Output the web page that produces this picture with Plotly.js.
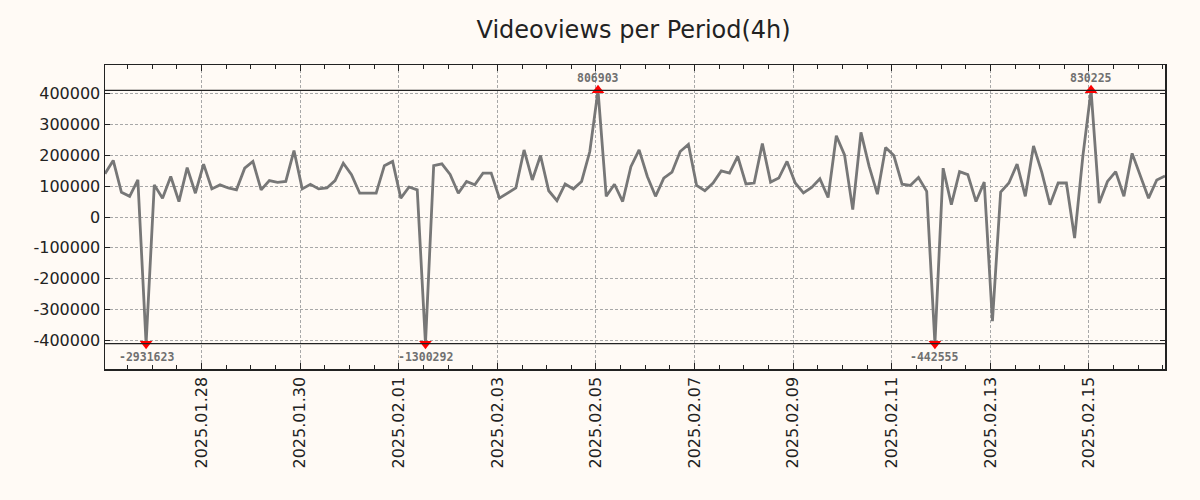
<!DOCTYPE html>
<html>
<head>
<meta charset="utf-8">
<script src="https://cdn.plot.ly/plotly-3.0.1.min.js"></script>
<style>
  html, body { margin: 0; padding: 0; background: #fffaf5; }
  #chart { width: 1200px; height: 500px; }
</style>
</head>
<body>
<div id="chart"></div>
<script>
// ---- data ----
const chartTitle = 'Videoviews per Period(4h)';
const periodStart = '2025-01-26T01:00:00Z';   // first 4h period
const periodHours = 4;
const views = [
  140000, 183000, 80000, 67000, 120000, -2931623, 104000, 61000, 131000, 50000,
  160000, 77000, 171000, 91000, 104000, 94000, 88000, 158000, 180000, 88000,
  118000, 112000, 115000, 215000, 91000, 106000, 91000, 94000, 118000, 174000,
  137000, 77000, 77000, 77000, 166000, 180000, 61000, 97000, 88000, -1300292,
  166000, 172000, 138000, 77000, 115000, 104000, 142000, 142000, 61000, 77000,
  94000, 217000, 120000, 199000, 85000, 53000, 107000, 91000, 115000, 212000,
  806903, 67000, 106000, 50000, 163000, 217000, 131000, 67000, 126000, 145000,
  212000, 235000, 102000, 85000, 110000, 149000, 142000, 196000, 107000, 110000,
  238000, 113000, 126000, 180000, 110000, 78000, 96000, 124000, 63000, 263000,
  201000, 24000, 274000, 163000, 74000, 225000, 199000, 106000, 102000, 128000,
  83000, -442555, 158000, 40000, 147000, 137000, 50000, 113000, -337000, 81000,
  110000, 171000, 67000, 230000, 145000, 40000, 110000, 110000, -68000, 196000,
  830225, 45000, 115000, 147000, 67000, 206000, 134000, 61000, 120000, 133000
];
const clipLevel = 410000;
const yTickVals = [-400000, -300000, -200000, -100000, 0, 100000, 200000, 300000, 400000];
const yTickText = yTickVals.map(v => String(v));

// ---- build ----
function fmt(ms) {
  const d = new Date(ms);
  const p = n => String(n).padStart(2, '0');
  return d.getUTCFullYear() + '-' + p(d.getUTCMonth() + 1) + '-' + p(d.getUTCDate()) +
         ' ' + p(d.getUTCHours()) + ':' + p(d.getUTCMinutes());
}
const t0 = Date.parse(periodStart);
const times = views.map((_, i) => fmt(t0 + i * periodHours * 3600e3));
const shown = views.map(v => Math.max(-clipLevel, Math.min(clipLevel, v)));

const outX = [], outY = [], outSym = [];
const annotations = [];
views.forEach((v, i) => {
  if (Math.abs(v) > clipLevel) {
    const up = v > 0;
    outX.push(times[i]);
    outY.push(up ? clipLevel : -clipLevel);
    outSym.push(up ? 'triangle-up' : 'triangle-down');
    annotations.push({
      x: times[i], y: up ? clipLevel : -clipLevel,
      xref: 'x', yref: 'y', showarrow: false,
      text: '<b>' + String(v) + '</b>',
      yshift: up ? 12 : -13,
      font: { family: 'DejaVu Sans Mono, monospace', size: 11.5, color: '#707070' }
    });
  }
});

const traces = [
  {
    x: times, y: shown, type: 'scatter', mode: 'lines',
    line: { color: '#777777', width: 2.8 },
    hoverinfo: 'skip'
  },
  {
    x: outX, y: outY, type: 'scatter', mode: 'markers',
    marker: { symbol: outSym, color: '#ff0000', size: 11, line: { width: 0 } },
    hoverinfo: 'skip'
  }
];

const axisFont = { family: 'DejaVu Sans, sans-serif', size: 16, color: '#222' };

const layout = {
  width: 1200, height: 500,
  paper_bgcolor: '#fffaf5', plot_bgcolor: '#fffaf5',
  showlegend: false,
  margin: { l: 105, r: 35, t: 65, b: 131, pad: 0 },
  title: {
    text: chartTitle, x: 0.528, xanchor: 'center', y: 0.94, yanchor: 'middle',
    font: { family: 'DejaVu Sans, sans-serif', size: 24, color: '#222' }
  },
  xaxis: {
    type: 'date',
    range: [times[0], times[times.length - 1]],
    tick0: '2025-01-28', dtick: 2 * 86400000,
    tickformat: '%Y.%m.%d', tickangle: -90,
    tickfont: axisFont,
    ticks: 'inside', ticklen: 6, tickwidth: 1, tickcolor: '#222',
    showline: true, linecolor: '#222', linewidth: 1.5, mirror: 'allticks',
    showgrid: true, gridcolor: '#a8a8a8', gridwidth: 1, griddash: '3px,2px',
    zeroline: false,
    minor: { dtick: 43200000, tick0: '2025-01-28', ticks: 'inside', ticklen: 4, tickcolor: '#222', tickwidth: 1, showgrid: false }
  },
  yaxis: {
    range: [-492000, 492000],
    tickmode: 'array', tickvals: yTickVals, ticktext: yTickText,
    tickfont: axisFont,
    ticks: 'inside', ticklen: 5, tickwidth: 1, tickcolor: '#222',
    showline: true, linecolor: '#222', linewidth: 1.5, mirror: 'allticks',
    showgrid: true, gridcolor: '#a8a8a8', gridwidth: 1, griddash: '3px,2px',
    zeroline: false
  },
  shapes: [
    { type: 'line', xref: 'paper', yref: 'y', x0: 0, x1: 1, y0: clipLevel, y1: clipLevel,
      line: { color: '#222', width: 1.3 }, layer: 'above' },
    { type: 'line', xref: 'paper', yref: 'y', x0: 0, x1: 1, y0: -clipLevel, y1: -clipLevel,
      line: { color: '#222', width: 1.3 }, layer: 'above' }
  ],
  annotations: annotations
};

Plotly.newPlot('chart', traces, layout, { staticPlot: true, displayModeBar: false });
</script>
</body>
</html>
